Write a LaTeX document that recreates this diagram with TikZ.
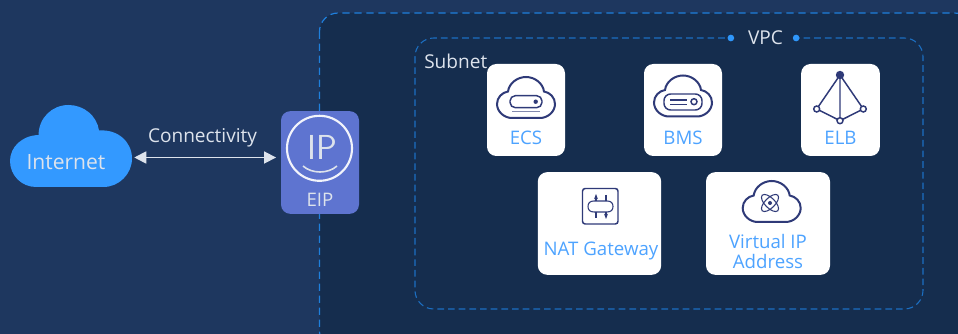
\documentclass[tikz,border=0pt]{standalone}
\usepackage{fontspec}
\setmainfont{Open Sans}
\usetikzlibrary{positioning}
\usetikzlibrary{arrows.meta}
\definecolor{bgblue}{HTML}{1E375F}
\definecolor{vpcblue}{HTML}{152D4E}
\definecolor{dashblue}{HTML}{1F7FDC}
\definecolor{subnetblue}{HTML}{1C6FC2}
\definecolor{dotblue}{HTML}{2F97FB}
\definecolor{cloudblue}{HTML}{3399FF}
\definecolor{textblue}{HTML}{4DA3FF}
\definecolor{iconnavy}{HTML}{2F3A78}
\definecolor{eipblue}{HTML}{5E74D0}
\definecolor{lightgrey}{HTML}{DDE3EC}
\tikzset{
  vpcbox/.style={draw=dashblue, line width=0.9pt, dash pattern=on 5.5pt off 3.5pt, rounded corners=14pt},
  card/.style={fill=white, rounded corners=7pt, inner sep=0pt},
  cardtext/.style={text=textblue, font=\fontsize{14}{15}\selectfont, align=center, inner sep=0pt},
  plain/.style={text=lightgrey, font=\fontsize{14.3}{15}\selectfont, inner sep=0pt},
  bluedot/.style={circle, fill=dotblue, inner sep=0pt, minimum size=5pt},
  icon/.style={draw=iconnavy, line width=1.1pt},
  iconcloud/.pic={
    \draw[icon, line width=1.5pt] (-14,20.5) .. controls (-22,20.5) and (-29,14) .. (-29,6.5) .. controls (-29,0) and (-24,-5) .. (-18,-6) .. controls (-17,-14) and (-9,-20.5) .. (0,-20.5) .. controls (9,-20.5) and (17,-14) .. (18,-6) .. controls (24,-5) and (29,0) .. (29,6.5) .. controls (29,14) and (22,20.5) .. (14,20.5) -- cycle;
  }
}
\begin{document}
\begin{tikzpicture}[x=0.75pt, y=-0.75pt]
\useasboundingbox (0,0) rectangle (958,334);
\fill[bgblue] (0,0) rectangle (958,334);
\begin{scope}
\clip (0,0) rectangle (958,334);
\draw[vpcbox, fill=vpcblue] (319.5,13) rectangle (973,350);
\end{scope}
\draw[vpcbox, draw=subnetblue, line width=0.8pt, dash pattern=on 5pt off 3pt] (415,38) rectangle (923,309);
% vpc label
\fill[vpcblue] (734,30) rectangle (793,46);
\node[plain] (vpc) at (765.5,38) {VPC};
\node[bluedot, left=10pt of vpc] (dotl) {};
\node[bluedot, right=7pt of vpc] (dotr) {};
\node[plain, anchor=west] (subnet) at (424,61) {Subnet};
% internet
\fill[cloudblue] (36,187) .. controls (21.6,187) and (10,175.4) .. (10,161) .. controls (10,147) and (22,135.5) .. (38.6,135) .. controls (38.6,118) and (52,105) .. (68.5,105) .. controls (84,105) and (97,116) .. (99,130.5) .. controls (118,129) and (132,142) .. (132,158.5) .. controls (132,174) and (119,187) .. (103.5,187) -- cycle;
\node[inner sep=0pt, minimum width=91.5pt, minimum height=42pt] (cloud) at (71,157.5) {};
\node[text=lightgrey, font=\fontsize{15.8}{16}\selectfont, inner sep=0pt] (internet) at (66,162) {Internet};
% eip
\node[fill=eipblue, rounded corners=7pt, minimum width=58.5pt, minimum height=77pt, inner sep=0pt] (eip) at (320,162.5) {};
\draw[white!92!eipblue, line width=1.6pt] (319.5,148.3) circle (32.5);
\node[text=lightgrey, font=\sffamily\fontsize{26}{26}\selectfont, inner sep=0pt] (iptext) at (322,147) {IP};
\draw[lightgrey, line width=1.2pt] (303,166) .. controls (312,174) and (328,174) .. (337,166);
\node[plain, font=\fontsize{14}{15}\selectfont] (eiptext) at (320,200) {EIP};
\draw[{Triangle[width=9pt,length=9pt]}-{Triangle[width=9pt,length=9pt]}, lightgrey, line width=1.3pt, shorten <=1.5pt, shorten >=3.5pt] (cloud.east) -- (cloud.east -| eip.west);
\node[plain] (conn) at (202.5,138) {Connectivity};
% ecs
\node[card, minimum width=58.5pt, minimum height=69pt] (ecs) at (526,110) {};
\node[cardtext] (ecstext) at (526,138) {ECS};
\pic at (526,97.5) {iconcloud};
\draw[icon, rounded corners=4pt] (510,95.7) rectangle (542,107.7);
\fill[iconnavy] (535.7,101.7) circle (2.2);
\draw[icon, iconnavy!60] (512,111.7) -- (540,111.7);
% bms
\node[card, minimum width=58.5pt, minimum height=69pt] (bms) at (683,110) {};
\node[cardtext] (bmstext) at (683,138) {BMS};
\pic at (683,96) {iconcloud};
\draw[icon, rounded corners=5pt] (664,94) rectangle (702,110);
\draw[icon, line width=0.8pt] (670,100) -- (687,100) (670,104.3) -- (687,104.3);
\draw[icon] (694,101.7) circle (3);
% elb
\node[card, minimum width=59pt, minimum height=69pt] (elb) at (840.5,110) {};
\node[cardtext] (elbtext) at (840.5,138) {ELB};
\draw[icon] (840,75) -- (816.7,109) -- (840,120.7) -- (863.3,109) -- cycle (840,75) -- (840,120.7);
\fill[iconnavy] (840,75) circle (4.2);
\foreach \px/\py in {816.7/109, 863.3/109, 840/120.7}
  \draw[icon, fill=white] (\px,\py) circle (3);
% nat
\node[card, minimum width=92.5pt, minimum height=77pt] (nat) at (599.5,223.5) {};
\node[cardtext] (nattext) at (601,251) {NAT Gateway};
\draw[icon, rounded corners=2pt] (582.5,188.5) rectangle (618,224);
\draw[icon, line width=0.8pt, -{Stealth[length=4pt]}] (596,201) -- (596,194);
\draw[icon, line width=0.8pt, -{Stealth[length=4pt]}] (606,212) -- (606,219);
\draw[icon, line width=0.8pt] (606,195) -- (606,201) (596,212) -- (596,218);
\draw[icon, line width=0.8pt] (588,206.5) .. controls (588,203) and (590,201) .. (594,201) -- (607,201) .. controls (611,201) and (613,203) .. (613,206.5) .. controls (613,210) and (611,212) .. (607,212) -- (594,212) .. controls (590,212) and (588,210) .. (588,206.5);
% vip
\node[card, minimum width=93pt, minimum height=77pt] (vip) at (768,223.5) {};
\node[cardtext] (viptext) at (768,252) {Virtual IP\\Address};
\pic at (771.7,201.5) {iconcloud};
\draw[icon, line width=0.8pt, rotate around={45:(770,203)}] (770,203) ellipse (11 and 5);
\draw[icon, line width=0.8pt, rotate around={-45:(770,203)}] (770,203) ellipse (11 and 5);
\fill[iconnavy] (770,203) circle (2);
\end{tikzpicture}
\end{document}
